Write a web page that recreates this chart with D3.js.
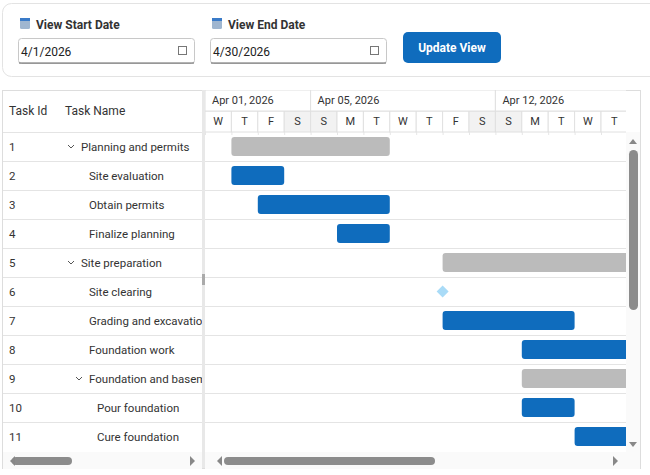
<!DOCTYPE html>
<html><head><meta charset="utf-8">
<script src="https://cdn.jsdelivr.net/npm/d3@7"></script>
<style>body{margin:0;background:#fff;font-family:Roboto,"Liberation Sans",sans-serif}</style>
</head><body><svg id="c" width="650" height="475"></svg>
<script>
const taskIds=[1,2,3,4,5,6,7,8,9,10,11];
const taskNames=["Planning and permits","Site evaluation","Obtain permits","Finalize planning","Site preparation","Site clearing","Grading and excavation","Foundation work","Foundation and basement","Pour foundation","Cure foundation"];
const taskLevels=[0,1,1,1,0,1,1,1,1,2,2];
const taskParent=[true,false,false,false,true,false,false,false,true,false,false];
const taskStart=["2026-04-02","2026-04-02","2026-04-03","2026-04-06","2026-04-10","2026-04-10","2026-04-10","2026-04-13","2026-04-13","2026-04-13","2026-04-15"];
const taskDays=[6,2,5,2,10,0,5,8,10,2,3];
const topTierLabels=["Apr 01, 2026","Apr 05, 2026","Apr 12, 2026"];
const dayLetters=["S","M","T","W","T","F","S"];

const svg=d3.select("#c");
const F='Roboto,"Liberation Sans",sans-serif';
svg.append("rect").attr("x",2.5).attr("y",3.5).attr("width",660).attr("height",73).attr("rx",9).attr("fill","#fff").attr("stroke","#e3e3e3");
function field(x,label,val){
  svg.append("rect").attr("x",x+1).attr("y",18).attr("width",10).attr("height",11).attr("rx",1.5).attr("fill","#9fb6d0");
  svg.append("rect").attr("x",x+1).attr("y",18).attr("width",10).attr("height",3).attr("fill","#3a7bc8");
  svg.append("text").attr("x",x+17).attr("y",29).attr("font-size",12).attr("font-weight",700).attr("fill","#333").attr("font-family",F).text(label);
  svg.append("rect").attr("x",x-0.5).attr("y",38.5).attr("width",176).attr("height",25).attr("rx",3).attr("fill","#fff").attr("stroke","#c8c8c8");
  svg.append("line").attr("x1",x).attr("x2",x+175).attr("y1",63).attr("y2",63).attr("stroke","#666");
  svg.append("text").attr("x",x+2).attr("y",56).attr("font-size",12).attr("fill","#222").attr("font-family",F).text(val);
  svg.append("rect").attr("x",x+159.5).attr("y",46.5).attr("width",8).attr("height",8).attr("fill","none").attr("stroke","#777");
}
field(19,"View Start Date","4/1/2026");
field(211,"View End Date","4/30/2026");
svg.append("rect").attr("x",403).attr("y",32).attr("width",98).attr("height",31).attr("rx",5).attr("fill","#0f6cbd");
svg.append("text").attr("x",452).attr("y",52).attr("text-anchor","middle").attr("font-size",12).attr("font-weight",700).attr("fill","#fff").attr("font-family",F).text("Update View");

const gTop=90,hdr=42,rowH=29,left=205,right=626;
const p=d3.timeParse("%Y-%m-%d");
const x=d3.scaleTime().domain([p("2026-04-01"),p("2026-04-17")]).range([left,left+16*26.4]);
const y=d3.scaleBand().domain(taskIds).range([gTop+hdr,gTop+hdr+rowH*taskIds.length]);
svg.append("rect").attr("x",2.5).attr("y",gTop+0.5).attr("width",638).attr("height",378).attr("fill","#fff").attr("stroke","#ddd");
const g=svg.append("g");
g.append("text").attr("x",9).attr("y",115).attr("font-size",12).attr("fill","#333").attr("font-family",F).text("Task Id");
g.append("text").attr("x",65).attr("y",115).attr("font-size",12).attr("fill","#333").attr("font-family",F).text("Task Name");
const defs=svg.append("defs");
defs.append("clipPath").attr("id","lc").append("rect").attr("x",0).attr("y",0).attr("width",202).attr("height",475);
defs.append("clipPath").attr("id","cc").append("rect").attr("x",left).attr("y",gTop).attr("width",right-left).attr("height",360);
taskIds.forEach((id,i)=>{
  const yy=y(id);
  g.append("line").attr("x1",3).attr("x2",203).attr("y1",yy+0.5).attr("y2",yy+0.5).attr("stroke","#e4e4e4");
  g.append("text").attr("x",9).attr("y",yy+19).attr("font-size",11.5).attr("fill","#333").attr("font-family",F).text(id);
  const tx=81+8*taskLevels[i];
  if(taskParent[i]) g.append("path").attr("d",`M${tx-13},${yy+13}l3,3l3,-3`).attr("fill","none").attr("stroke","#555");
  g.append("text").attr("x",tx).attr("y",yy+19).attr("clip-path","url(#lc)").attr("font-size",11.5).attr("fill","#333").attr("font-family",F).text(taskNames[i]);
});
svg.append("rect").attr("x",202).attr("y",gTop).attr("width",3).attr("height",378).attr("fill","#e8e8e8");
svg.append("rect").attr("x",202).attr("y",274).attr("width",3).attr("height",11).attr("fill","#aaa");
const days=d3.timeDay.range(p("2026-04-01"),p("2026-04-17"));
const tl=svg.append("g").attr("clip-path","url(#cc)");
days.forEach(d=>{
  const wk=d.getDay()==0||d.getDay()==6;
  tl.append("rect").attr("x",x(d)).attr("y",gTop+21).attr("width",26.4).attr("height",21).attr("fill",wk?"#f2f2f2":"#fff").attr("stroke","#e0e0e0");
  tl.append("text").attr("x",x(d)+13.2).attr("y",gTop+35).attr("text-anchor","middle").attr("font-size",11).attr("fill","#333").attr("font-family",F).text(dayLetters[d.getDay()]);
  tl.append("line").attr("x1",x(d)+0.5).attr("x2",x(d)+0.5).attr("y1",gTop+hdr).attr("y2",gTop+hdr+3).attr("stroke","#e6e6e6");
});
const tiers=[p("2026-04-01"),p("2026-04-05"),p("2026-04-12")];
tiers.forEach((d,i)=>{
  const e=i<2?tiers[i+1]:p("2026-04-19");
  tl.append("rect").attr("x",x(d)).attr("y",gTop).attr("width",x(e)-x(d)).attr("height",21).attr("fill","#fff").attr("stroke","#e0e0e0");
  tl.append("text").attr("x",x(d)+7).attr("y",gTop+14).attr("font-size",11).attr("fill","#333").attr("font-family",F).text(topTierLabels[i]);
});
taskIds.forEach((id,i)=>{
  const yy=y(id);
  tl.append("line").attr("x1",left).attr("x2",right).attr("y1",yy+rowH+0.5).attr("y2",yy+rowH+0.5).attr("stroke","#e4e4e4");
  const s=p(taskStart[i]);
  if(taskDays[i]===0){
    const cx=x(s),cy=yy+rowH/2;
    tl.append("path").attr("d",`M${cx},${cy-6}L${cx+6},${cy}L${cx},${cy+6}L${cx-6},${cy}Z`).attr("fill","#a9dbf7");
  } else {
    const e=d3.timeDay.offset(s,taskDays[i]);
    tl.append("rect").attr("x",x(s)).attr("y",yy+5).attr("width",x(e)-x(s)).attr("height",19).attr("rx",3).attr("fill",taskParent[i]?"#bbbbbb":"#0f6cbd");
  }
});
svg.append("rect").attr("x",626).attr("y",132).attr("width",14).attr("height",326).attr("fill","#fafafa");
svg.append("rect").attr("x",629).attr("y",150).attr("width",9).attr("height",160).attr("rx",4.5).attr("fill","#8c8c8c");
svg.append("path").attr("d","M629,144l4,-5l4,5z").attr("fill","#888");
svg.append("path").attr("d","M629,442l4,5l4,-5z").attr("fill","#888");
svg.append("rect").attr("x",3).attr("y",452).attr("width",199).attr("height",17).attr("fill","#fafafa");
svg.append("rect").attr("x",205).attr("y",452).attr("width",435).attr("height",17).attr("fill","#fafafa");
svg.append("rect").attr("x",12).attr("y",457).attr("width",60).attr("height",8).attr("rx",4).attr("fill","#8c8c8c");
svg.append("rect").attr("x",224).attr("y",457).attr("width",211).attr("height",8).attr("rx",4).attr("fill","#8c8c8c");
[[10,1],[195,-1],[217,1],[618,-1]].forEach(([a,dir])=>svg.append("path").attr("d",`M${a},461l${5*dir},-5v10z`).attr("fill","#888"));
</script></body></html>
